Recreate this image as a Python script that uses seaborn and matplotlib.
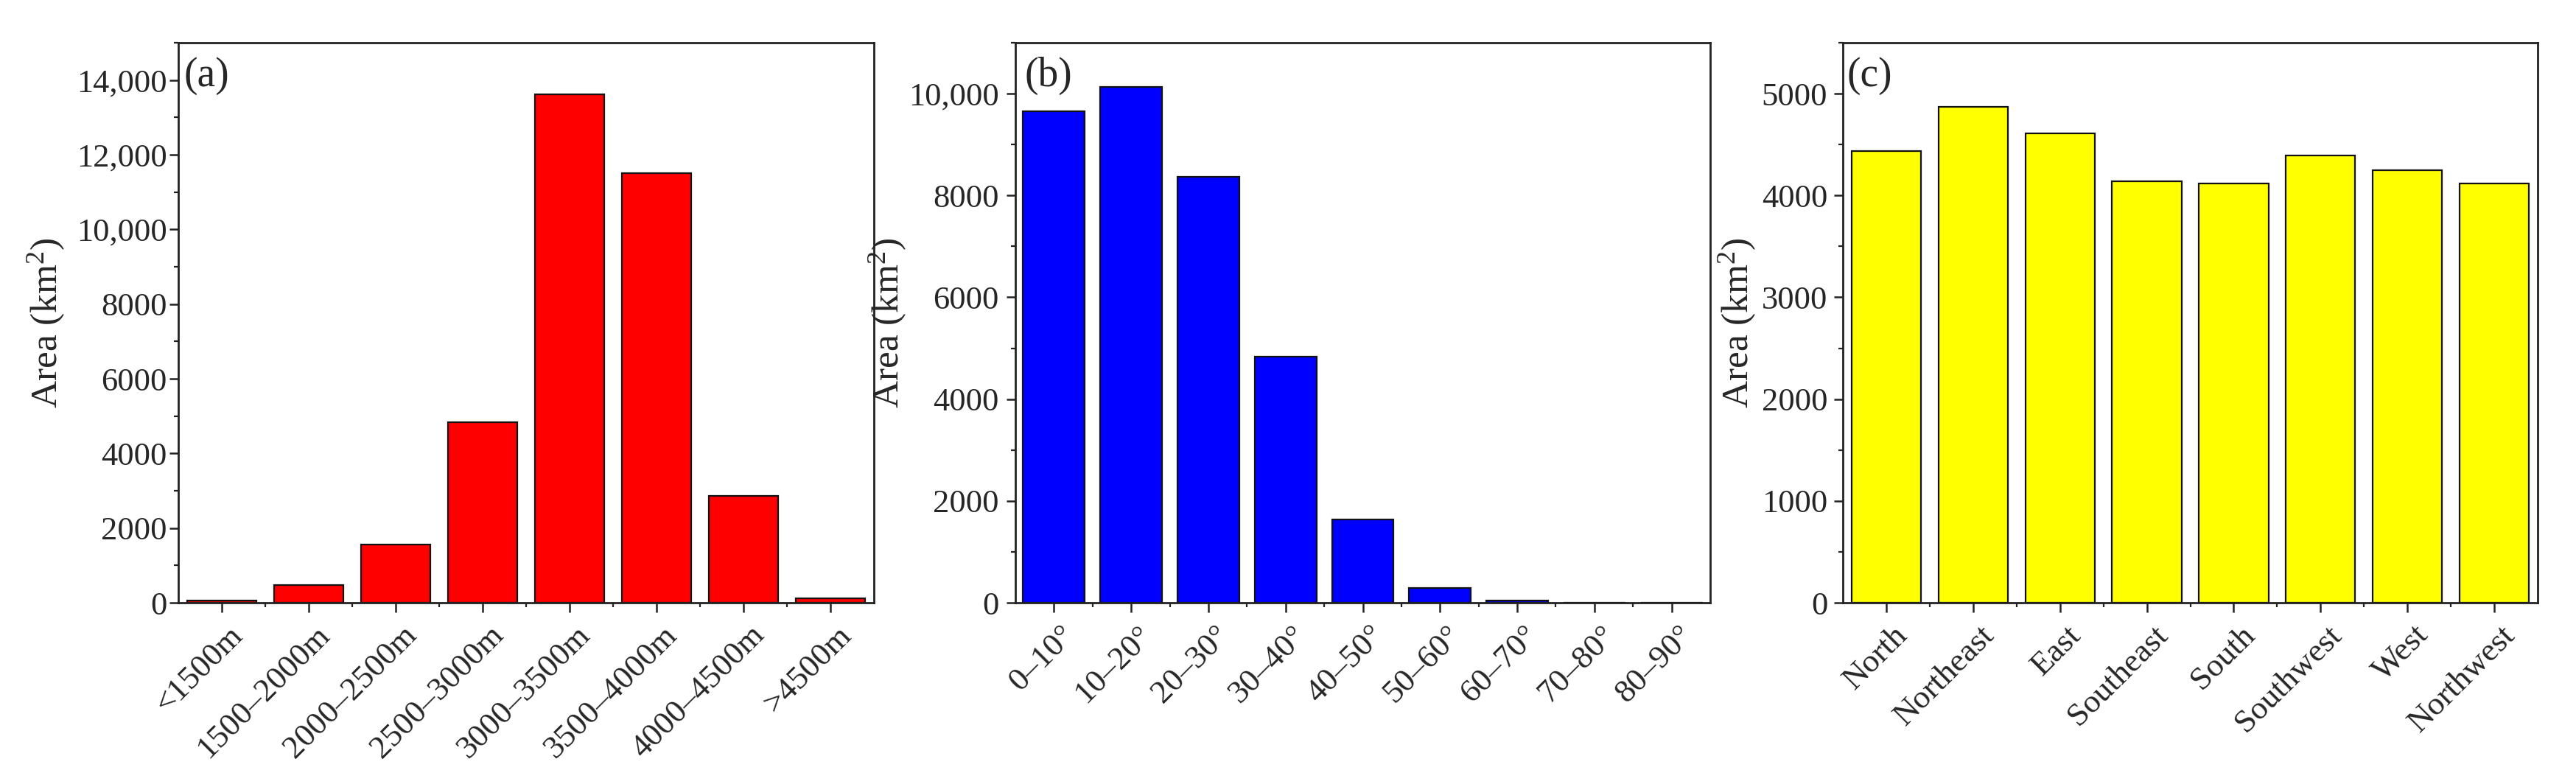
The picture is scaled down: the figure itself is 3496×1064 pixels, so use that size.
import matplotlib
matplotlib.use("Agg")
import matplotlib.pyplot as plt
import matplotlib.transforms as mtransforms
import seaborn as sns
import pandas as pd
from matplotlib.ticker import MultipleLocator, FixedLocator, FuncFormatter

# ---- data ----
elev_cats = ["<1500m", "1500–2000m", "2000–2500m", "2500–3000m",
             "3000–3500m", "3500–4000m", "4000–4500m", ">4500m"]
elev_vals = [60, 470, 1560, 4840, 13620, 11510, 2860, 110]

slope_cats = ["0–10°", "10–20°", "20–30°", "30–40°", "40–50°",
              "50–60°", "60–70°", "70–80°", "80–90°"]
slope_vals = [9650, 10130, 8370, 4830, 1635, 295, 50, 6, 1]

aspect_cats = ["North", "Northeast", "East", "Southeast", "South",
               "Southwest", "West", "Northwest"]
aspect_vals = [4435, 4867, 4607, 4136, 4116, 4391, 4248, 4121]

panel_labels = ["(a)", "(b)", "(c)"]
ylabel = "Area (km$^2$)"

# ---- style ----
sns.set_theme(style="ticks")
plt.rcParams["font.family"] = ["Liberation Serif", "DejaVu Serif"]
plt.rcParams["mathtext.fontset"] = "custom"
plt.rcParams["mathtext.rm"] = "Liberation Serif"
plt.rcParams["mathtext.it"] = "Liberation Serif:italic"
plt.rcParams["axes.linewidth"] = 2.0
plt.rcParams["axes.edgecolor"] = "#222222"

fig = plt.figure(figsize=(34.96, 10.64), dpi=100)
W, H = 3496, 1064
boxes = [(242, 1186), (1378, 2321), (2501, 3444)]
top_px, bot_px = 58, 818

datasets = [
    (elev_cats, elev_vals, "#FF0000", 15000, 2000, 1000),
    (slope_cats, slope_vals, "#0000FF", 11000, 2000, 1000),
    (aspect_cats, aspect_vals, "#FFFF00", 5500, 1000, 500),
]
label_xoff = [0.008, 0.013, 0.006]
ytick_pad = [2, 7, 6]
ylabel_pad = [9, 0, 3]


def fmt(v, pos):
    v = int(round(v))
    return f"{v:,}" if v >= 10000 else str(v)


shift = mtransforms.ScaledTranslation(8 / 100, 0, fig.dpi_scale_trans)

for i, ((x0, x1), (cats, vals, col, ymax, maj, mnr)) in enumerate(zip(boxes, datasets)):
    ax = fig.add_axes([x0 / W, (H - bot_px) / H, (x1 - x0) / W, (bot_px - top_px) / H])
    df = pd.DataFrame({"cat": cats, "val": vals})
    sns.barplot(data=df, x="cat", y="val", color=col, saturation=1,
                edgecolor="#111111", linewidth=1.6, width=0.8, ax=ax)
    n = len(cats)
    ax.set_xlim(-0.5, n - 0.5)
    ax.set_ylim(0, ymax)
    ax.yaxis.set_major_locator(MultipleLocator(maj))
    ax.yaxis.set_minor_locator(MultipleLocator(mnr))
    ax.yaxis.set_major_formatter(FuncFormatter(fmt))
    ax.xaxis.set_minor_locator(FixedLocator([k + 0.5 for k in range(n - 1)]))
    ax.set_xticks(range(n))
    ax.set_xticklabels(cats, rotation=45, ha="right", rotation_mode="anchor")
    ax.tick_params(axis="both", which="major", direction="out", length=9,
                   width=1.8, labelsize=32, color="#222222")
    ax.tick_params(axis="both", which="minor", direction="out", length=4,
                   width=1.6, color="#222222")
    ax.tick_params(axis="x", which="major", pad=8)
    ax.tick_params(axis="y", which="major", pad=ytick_pad[i])
    for lab in ax.get_xticklabels():
        lab.set_transform(lab.get_transform() + shift)
    for s in ax.spines.values():
        s.set_visible(True)
        s.set_linewidth(2.0)
    ax.set_xlabel("")
    ax.set_ylabel(ylabel, fontsize=37, labelpad=ylabel_pad[i])
    ax.text(label_xoff[i], 0.975, panel_labels[i], transform=ax.transAxes,
            fontsize=40, va="top", ha="left")

fig.savefig("out.png", dpi=100, facecolor="white")
